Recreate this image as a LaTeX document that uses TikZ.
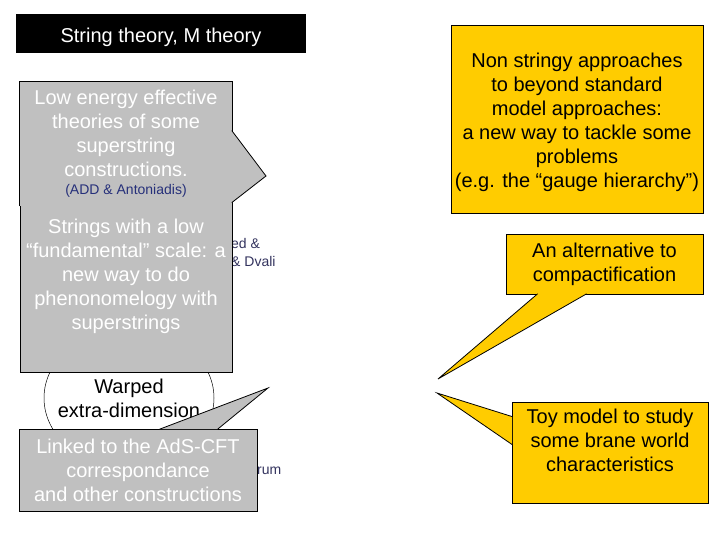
\documentclass[tikz,border=0pt]{standalone}
\usepackage{fontspec}
\setmainfont{Liberation Sans}
\usepackage{tikz}
\usetikzlibrary{calc}
\definecolor{slidegold}{HTML}{FFCC00}
\definecolor{slidegray}{HTML}{C0C0C0}
\definecolor{addblue}{HTML}{26307A}
\definecolor{hiddennavy}{HTML}{33335E}
\newcommand{\bigtxt}{\fontsize{20}{24}\selectfont}
\newcommand{\smalltxt}{\fontsize{14}{18}\selectfont}

\begin{document}
\begin{tikzpicture}[
 x=1pt,y=-1pt,
 titlebox/.style={fill=black,text=white,font=\bigtxt,minimum width=290,minimum height=39,inner sep=0,text height=18pt,text depth=0pt},
 graybox/.style={fill=slidegray,draw=black,line width=.8pt,text=white,font=\bigtxt,align=center,inner sep=0},
 goldbox/.style={fill=slidegold,draw=black,line width=.8pt,text=black,font=\bigtxt,align=center,inner sep=0},
 bubble/.style={draw=black,line width=.5pt,fill=white},
 hidden/.style={text=hiddennavy,font=\smalltxt,align=left,inner sep=0},
 tail/.style={draw=black,line width=.8pt}
]
\useasboundingbox (0,0) rectangle (720,540);
\node[titlebox] (title) at (161,33.5) {String theory, M theory};
\coordinate (warpedc) at (129,398);
\path[bubble] (warpedc) ellipse [x radius=85,y radius=70];
\node[font=\bigtxt,align=center,inner sep=0] (warped) at (warpedc) {Warped\\extra-dimension};
\node[hidden,anchor=west] (dvali) at (231,252) {ed \&\\\& Dvali};
\node[hidden,anchor=west] (sundrum) at (257,471) {rum};
\node[graybox,minimum width=212,minimum height=192] (strings) at (126,276) {Strings with a low\\“fundamental” scale: a\\new way to do\\phenonomelogy with\\superstrings};
\node[graybox,draw=none,minimum width=212,minimum height=124] (lowe) at (126,144) {Low energy effective\\theories of some\\superstring\\constructions.\\[-6pt]{\smalltxt\color{addblue}(ADD \& Antoniadis)}};
\draw[tail] (lowe.south west) |- (lowe.north east) -- (lowe.south east);
\coordinate (lowetip) at (266,176);
\filldraw[tail,fill=slidegray] ($(lowe.north east)+(-.6,49)$) -- (lowetip) -- ($(lowe.north east)+(-.6,121)$);
\node[graybox,minimum width=238,minimum height=82] (linked) at (138,470) {Linked to the AdS-CFT\\correspondance\\and other constructions};
\coordinate (linkedtip) at (268,388);
\filldraw[tail,fill=slidegray] ($(linked.north west)+(141,.6)$) -- (linkedtip) -- ($(linked.north west)+(199,.6)$);
\node[goldbox,minimum width=252,minimum height=188] (nonstringy) at (577,119) {Non stringy approaches\\to beyond standard\\model approaches:\\a new way to tackle some\\problems\\(e.g. the “gauge hierarchy”)\\[-26pt]\mbox{}};
\node[goldbox,minimum width=197,minimum height=60] (altern) at (604.5,264) {An alternative to\\compactification};
\coordinate (alterntip) at (438,379);
\filldraw[tail,fill=slidegold] ($(altern.south west)+(32,-.6)$) -- (alterntip) -- ($(altern.south west)+(81,-.6)$);
\node[goldbox,minimum width=196,minimum height=101] (toy) at (610,452.5) {Toy model to study\\some brane world\\characteristics\\\mbox{}};
\coordinate (toytip) at (437,393);
\filldraw[tail,fill=slidegold] ($(toy.north west)+(.6,15)$) -- (toytip) -- ($(toy.north west)+(.6,43)$);
\end{tikzpicture}
\end{document}
